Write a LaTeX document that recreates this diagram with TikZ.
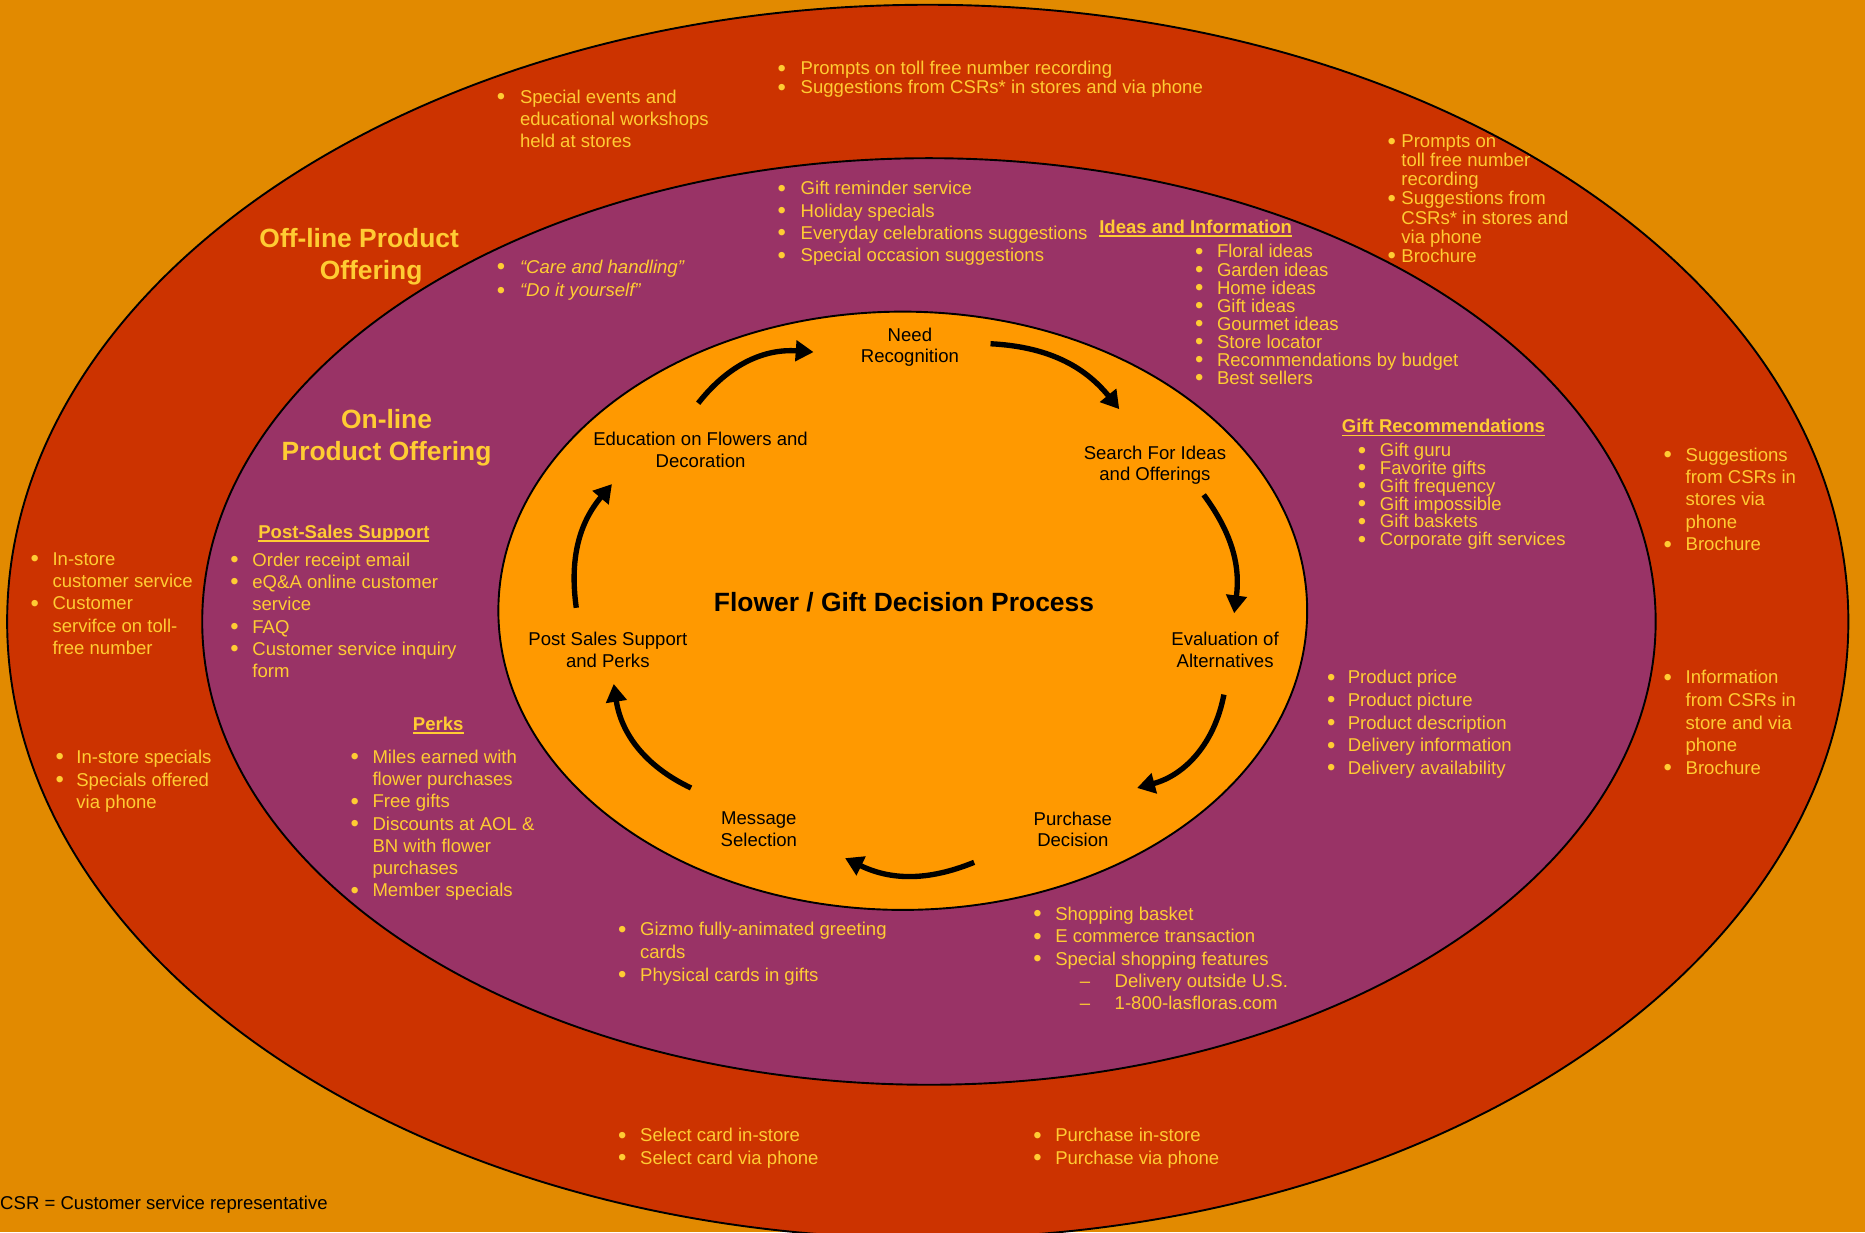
\documentclass[tikz,border=0pt]{standalone}
\usepackage{fontspec}
\setmainfont{Liberation Sans}
\usetikzlibrary{arrows.meta}

\definecolor{bgorange}{HTML}{E28A00}
\definecolor{ringred}{HTML}{CC3300}
\definecolor{ringpurple}{HTML}{993366}
\definecolor{coreorange}{HTML}{FF9900}
\definecolor{txtyellow}{HTML}{FFCC33}

% bullet item / continuation line
\newcommand{\bi}[1][17.7pt]{\makebox[#1][l]{\hspace*{-0.8pt}\raisebox{-1.2pt}{\fontsize{20}{20}\selectfont\textbullet}}}
\newcommand{\bc}[1][17.7pt]{\hspace*{#1}}
% underlined heading
\newsavebox{\hdbox}
\newcommand{\hdline}[1]{\sbox{\hdbox}{#1}\rlap{\rule[-3pt]{\wd\hdbox}{1.6pt}}\usebox{\hdbox}}

\begin{document}
\begin{tikzpicture}[x=1pt,y=1pt,
  ring/.style={draw=black, line width=1.6pt},
  stage/.style={align=center, inner sep=0pt, anchor=north, font=\fontsize{15.6}{18}\selectfont},
  ytext/.style={text=txtyellow, inner sep=0pt, anchor=north west, align=left, font=\fontsize{15.6}{#1}\selectfont},
  ytext/.default=16,
  ringtitle/.style={text=txtyellow, align=center, inner sep=0pt, anchor=north, font=\bfseries\fontsize{22.2}{27}\selectfont},
  cycarrow/.style={line width=4.5pt, -{Triangle[length=15pt,width=17pt]}}]
  \useasboundingbox (0,0) rectangle (1568,-1036);
  \fill[bgorange] (0,0) rectangle (1568,-1036);
  \clip (0,0) rectangle (1568,-1036);

  % rings
  \coordinate (oc) at (780,-522.6);
  \coordinate (mc) at (781,-522.5);
  \coordinate (ic) at (759,-513.5);
  \draw[ring, fill=ringred] (oc) ellipse [x radius=774, y radius=518.6];
  \draw[ring, fill=ringpurple] (mc) ellipse [x radius=611, y radius=389.5];
  \draw[ring, fill=coreorange] (ic) ellipse [x radius=340, y radius=251.5];

  % decision process
  \node[anchor=north, inner sep=0pt, font=\bfseries\fontsize{22.2}{27}\selectfont] (proc) at (760,-498.1) {Flower / Gift Decision Process};
  \node[stage] (need) at (765,-275.4) {Need\\Recognition};
  \node[stage] (search) at (971,-374.4) {Search For Ideas\\and Offerings};
  \node[stage] (eval) at (1030,-531.4) {Evaluation of\\Alternatives};
  \node[stage] (purch) at (902,-682.4) {Purchase\\Decision};
  \node[stage] (msg) at (638,-682.4) {Message\\Selection};
  \node[stage] (post) at (511,-531.4) {Post Sales Support\\and Perks};
  \node[stage] (edu) at (589,-363.4) {Education on Flowers and\\Decoration};
  \foreach \a/\sa/\b/\sb/\bend in {edu/{-2,24.4}/need/{-81,-20.6}/28,
      need/{67.8,-13.6}/search/{-30,30.4}/24,
      search/{41,-41.6}/eval/{7.6,15.8}/22,
      eval/{-1,-52.6}/purch/{54,19.9}/32,
      purch/{-83,-42.6}/msg/{72.5,-39.1}/24,
      msg/{-57,19.9}/post/{5,-43.6}/28,
      post/{-26.5,20.4}/edu/{-74.5,-43.6}/24}
    \draw[cycarrow] ([shift={(\sa)}]\a.north) to[bend left=\bend] ([shift={(\sb)}]\b.north);

  % ring titles
  \node[ringtitle] (offtitle) at (302,-192.1) {Off-line Product\\\hspace*{20pt}Offering};
  \node[ringtitle] (ontitle) at (325,-344.1) {On-line\\Product Offering};

  % off-line product offering
  \node[ytext=18.5] (offevents) at (418.3,-75.4) {\bi[18.7pt]Special events and\\\bc[18.7pt]educational workshops\\\bc[18.7pt]held at stores};
  \node[ytext=16] (offprompt) at (654.3,-51.4) {\bi[18.7pt]Prompts on toll free number recording\\\bi[18.7pt]Suggestions from CSRs* in stores and via phone};
  \node[ytext=16] (offsearch) at (1167.3,-113.4) {\bi[10.7pt]Prompts on\\\bc[10.7pt]toll free number\\\bc[10.7pt]recording\\\bi[10.7pt]Suggestions from\\\bc[10.7pt]CSRs* in stores and\\\bc[10.7pt]via phone\\\bi[10.7pt]Brochure};
  \node[ytext=18.75] (offgift) at (1399.3,-376.4) {\bi Suggestions\\\bc from CSRs in\\\bc stores via\\\bc phone\\\bi Brochure};
  \node[ytext=19] (offeval) at (1399.3,-563.4) {\bi Information\\\bc from CSRs in\\\bc store and via\\\bc phone\\\bi Brochure};
  \node[ytext=18.75] (offservice) at (26.3,-464.4) {\bi In-store\\\bc customer service\\\bi Customer\\\bc servifce on toll-\\\bc free number};
  \node[ytext=19] (offspecials) at (47.3,-630.4) {\bi[16.7pt]In-store specials\\\bi[16.7pt]Specials offered\\\bc[16.7pt]via phone};
  \node[ytext=19] (offcard) at (520.3,-948.4) {\bi Select card in-store\\\bi Select card via phone};
  \node[ytext=19] (offbuy) at (869.3,-948.4) {\bi Purchase in-store\\\bi Purchase via phone};

  % on-line product offering
  \node[ytext=18.7] (onneed) at (654.3,-152.4) {\bi[18.7pt]Gift reminder service\\\bi[18.7pt]Holiday specials\\\bi[18.7pt]Everyday celebrations suggestions\\\bi[18.7pt]Special occasion suggestions};
  \node[ytext=19.5] (onedu) at (418.3,-218.4) {\bi[18.7pt]\textit{“Care and handling”}\\\bi[18.7pt]\textit{“Do it yourself”}};
  \node[ytext] (ideashd) at (924,-184.4) {\bfseries\hdline{Ideas and Information}};
  \node[ytext=15.14] (ideas) at (1005.3,-205.4) {\bi Floral ideas\\\bi Garden ideas\\\bi Home ideas\\\bi Gift ideas\\\bi Gourmet ideas\\\bi Store locator\\\bi Recommendations by budget\\\bi Best sellers};
  \node[ytext] (gifthd) at (1128,-352.4) {\bfseries\hdline{Gift Recommendations}};
  \node[ytext=15] (gifts) at (1142.3,-372.4) {\bi Gift guru\\\bi Favorite gifts\\\bi Gift frequency\\\bi Gift impossible\\\bi Gift baskets\\\bi Corporate gift services};
  \node[ytext=19] (product) at (1116.3,-563.4) {\bi[16.7pt]Product price\\\bi[16.7pt]Product picture\\\bi[16.7pt]Product description\\\bi[16.7pt]Delivery information\\\bi[16.7pt]Delivery availability};
  \node[ytext] (posthd) at (217,-441.4) {\bfseries\hdline{Post-Sales Support}};
  \node[ytext=18.8] (postsales) at (194.3,-464.4) {\bi Order receipt email\\\bi eQ\&A online customer\\\bc service\\\bi FAQ\\\bi Customer service inquiry\\\bc form};
  \node[ytext] (perkshd) at (347,-602.4) {\bfseries\hdline{Perks}};
  \node[ytext=18.7] (perks) at (295.3,-630.4) {\bi Miles earned with\\\bc flower purchases\\\bi Free gifts\\\bi Discounts at AOL \&\\\bc BN with flower\\\bc purchases\\\bi Member specials};
  \node[ytext=19] (oncard) at (520.3,-775.4) {\bi Gizmo fully-animated greeting\\\bc cards\\\bi Physical cards in gifts};
  \node[ytext=18.75] (onbuy) at (869.3,-762.4) {\bi Shopping basket\\\bi E commerce transaction\\\bi Special shopping features\\\bc\hspace*{20.6pt}\makebox[29.4pt][l]{–}Delivery outside U.S.\\\bc\hspace*{20.6pt}\makebox[29.4pt][l]{–}1-800-lasfloras.com};

  % footnote
  \node[ytext, text=black] (csrnote) at (0,-1005.4) {CSR = Customer service representative};
\end{tikzpicture}
\end{document}
